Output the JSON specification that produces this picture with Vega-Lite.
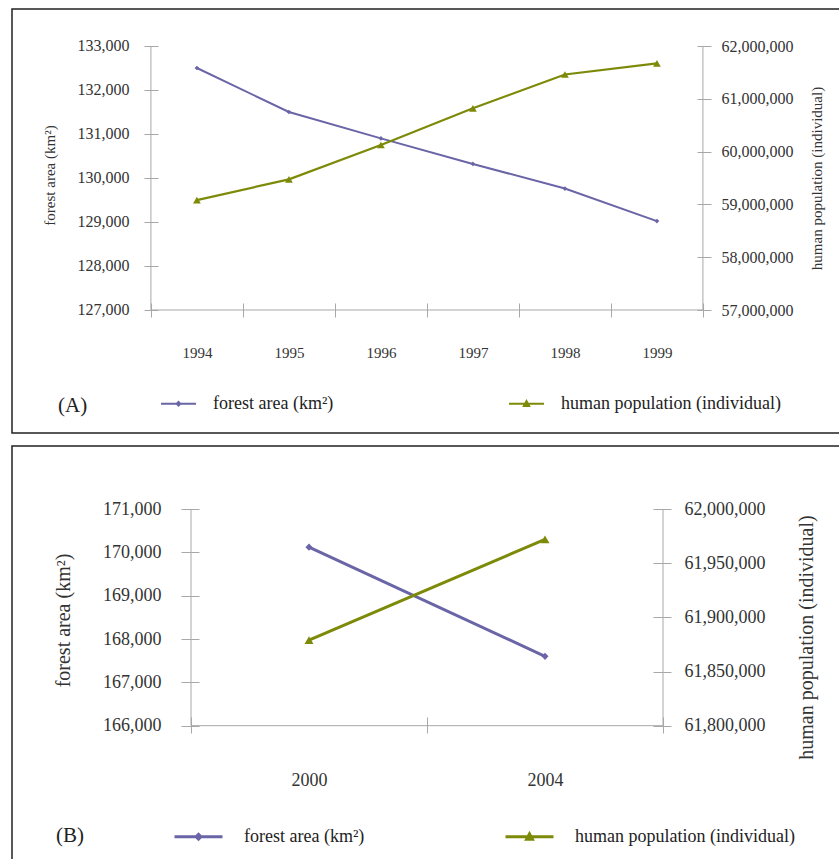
{
  "$schema": "https://vega.github.io/schema/vega-lite/v6.json",
  "padding": {"left": 11, "top": 8, "right": 0, "bottom": 0},
  "spacing": 11,
  "background": "white",
  "config": {
    "view": {"stroke": "#222222", "strokeWidth": 1.5},
    "font": "Liberation Serif",
    "axis": {"labelFont": "Liberation Serif", "titleFont": "Liberation Serif", "titleFontWeight": "normal", "labelColor": "#333333", "titleColor": "#333333", "tickColor": "#a8a8a8", "domain": false, "grid": false},
    "legend": {"labelFont": "Liberation Serif", "labelColor": "#222222", "padding": 0, "labelLimit": 400},
    "title": {"font": "Liberation Serif", "fontWeight": "normal", "color": "#222222"}
  },
  "datasets": {
    "a": [
      {"year": 1994, "forest": 132500, "population": 59080000},
      {"year": 1995, "forest": 131500, "population": 59475000},
      {"year": 1996, "forest": 130900, "population": 60125000},
      {"year": 1997, "forest": 130320, "population": 60820000},
      {"year": 1998, "forest": 129760, "population": 61460000},
      {"year": 1999, "forest": 129020, "population": 61670000}
    ],
    "b": [
      {"year": 2000, "forest": 170120, "population": 61879000},
      {"year": 2004, "forest": 167600, "population": 61972000}
    ]
  },
  "resolve": {"scale": {"color": "independent"}},
  "vconcat": [
    {
      "width": 828,
      "height": 424,
      "title": {"text": "(A)", "orient": "bottom", "anchor": "start", "offset": -27, "dx": 46, "baseline": "middle", "fontSize": 21},
      "data": {"name": "a"},
      "layer": [
        {
          "layer": [
            {
              "data": {"values": [{}]},
              "mark": {"type": "rule", "color": "#a8a8a8", "strokeWidth": 1},
              "encoding": {
                "x": {"datum": 1993.5, "type": "quantitative", "scale": {"domain": [1991.99, 2000.99], "nice": false, "zero": false},
                  "axis": {"values": [1993.5, 1994.5, 1995.5, 1996.5, 1997.5, 1998.5, 1999.5], "labelExpr": "datum.value > 1999 ? '' : format(datum.value + 0.5, 'd')", "labelOffset": 46, "offset": -130, "tickSize": 14, "labelPadding": 28, "labelFontSize": 15, "labelFlush": false, "labelOverlap": false, "title": null}},
                "y": {"datum": 127000, "type": "quantitative", "scale": {"domain": [124204.5, 133840.9], "nice": false, "zero": false},
                  "axis": {"orient": "left", "values": [127000, 128000, 129000, 130000, 131000, 132000, 133000], "format": ",.0f", "offset": -146, "tickSize": 14, "labelPadding": 15, "labelFontSize": 16, "labelOverlap": false, "title": "forest area (km²)", "titleX": -109, "titleY": 166, "titleAngle": -90, "titleAlign": "center", "titleBaseline": "middle", "titleFontSize": 15}},
                "y2": {"datum": 133000}
              }
            },
            {
              "data": {"values": [{}]},
              "mark": {"type": "rule", "color": "#a8a8a8", "strokeWidth": 1},
              "encoding": {
                "x": {"datum": 1999.5, "type": "quantitative", "scale": {"domain": [1991.99, 2000.99], "nice": false, "zero": false},
                  "axis": {"values": [1993.5, 1994.5, 1995.5, 1996.5, 1997.5, 1998.5, 1999.5], "labelExpr": "datum.value > 1999 ? '' : format(datum.value + 0.5, 'd')", "labelOffset": 46, "offset": -130, "tickSize": 14, "labelPadding": 28, "labelFontSize": 15, "labelFlush": false, "labelOverlap": false, "title": null}},
                "y": {"datum": 127000, "type": "quantitative", "scale": {"domain": [124204.5, 133840.9], "nice": false, "zero": false},
                  "axis": {"orient": "left", "values": [127000, 128000, 129000, 130000, 131000, 132000, 133000], "format": ",.0f", "offset": -146, "tickSize": 14, "labelPadding": 15, "labelFontSize": 16, "labelOverlap": false, "title": "forest area (km²)", "titleX": -109, "titleY": 166, "titleAngle": -90, "titleAlign": "center", "titleBaseline": "middle", "titleFontSize": 15}},
                "y2": {"datum": 133000}
              }
            },
            {
              "data": {"values": [{}]},
              "mark": {"type": "rule", "color": "#a8a8a8", "strokeWidth": 1},
              "encoding": {
                "x": {"datum": 1993.5, "type": "quantitative", "scale": {"domain": [1991.99, 2000.99], "nice": false, "zero": false},
                  "axis": {"values": [1993.5, 1994.5, 1995.5, 1996.5, 1997.5, 1998.5, 1999.5], "labelExpr": "datum.value > 1999 ? '' : format(datum.value + 0.5, 'd')", "labelOffset": 46, "offset": -130, "tickSize": 14, "labelPadding": 28, "labelFontSize": 15, "labelFlush": false, "labelOverlap": false, "title": null}},
                "x2": {"datum": 1999.5},
                "y": {"datum": 127000, "type": "quantitative", "scale": {"domain": [124204.5, 133840.9], "nice": false, "zero": false},
                  "axis": {"orient": "left", "values": [127000, 128000, 129000, 130000, 131000, 132000, 133000], "format": ",.0f", "offset": -146, "tickSize": 14, "labelPadding": 15, "labelFontSize": 16, "labelOverlap": false, "title": "forest area (km²)", "titleX": -109, "titleY": 166, "titleAngle": -90, "titleAlign": "center", "titleBaseline": "middle", "titleFontSize": 15}}
              }
            },
            {
              "mark": {"type": "line", "strokeWidth": 2, "point": {"shape": "diamond", "size": 22, "filled": true}},
              "encoding": {
                "x": {"field": "year", "type": "quantitative", "scale": {"domain": [1991.99, 2000.99], "nice": false, "zero": false},
                  "axis": {"values": [1993.5, 1994.5, 1995.5, 1996.5, 1997.5, 1998.5, 1999.5], "labelExpr": "datum.value > 1999 ? '' : format(datum.value + 0.5, 'd')", "labelOffset": 46, "offset": -130, "tickSize": 14, "labelPadding": 28, "labelFontSize": 15, "labelFlush": false, "labelOverlap": false, "title": null}},
                "y": {"field": "forest", "type": "quantitative", "scale": {"domain": [124204.5, 133840.9], "nice": false, "zero": false},
                  "axis": {"orient": "left", "values": [127000, 128000, 129000, 130000, 131000, 132000, 133000], "format": ",.0f", "offset": -146, "tickSize": 14, "labelPadding": 15, "labelFontSize": 16, "labelOverlap": false, "title": "forest area (km²)", "titleX": -109, "titleY": 166, "titleAngle": -90, "titleAlign": "center", "titleBaseline": "middle", "titleFontSize": 15}},
                "color": {"datum": "forest area (km²)", "type": "nominal",
                  "scale": {"domain": ["forest area (km²)", "human population (individual)"], "range": ["#6a65a6", "#7d8a08"]},
                  "legend": {"orient": "none", "legendX": 148, "legendY": 376, "direction": "horizontal", "title": null, "labelFontSize": 18, "labelOffset": 16, "columnPadding": 171, "symbolSize": 1225, "symbolStrokeWidth": 2, "labelLimit": 400,
                    "encoding": {"symbols": {"shape": {"value": {"expr": "datum.value == 'forest area (km²)' ? 'M-1,0H1M-0.1,0L0,-0.1L0.1,0L0,0.1Z' : 'M-1,0H1M-0.15,0.13L0,-0.15L0.15,0.13Z'"}}}}}}
              }
            }
          ]
        },
        {
          "mark": {"type": "line", "strokeWidth": 2.2, "point": {"shape": "triangle-up", "size": 60, "filled": true}},
          "encoding": {
            "x": {"field": "year", "type": "quantitative", "scale": {"domain": [1991.99, 2000.99], "nice": false, "zero": false},
              "axis": {"values": [1993.5, 1994.5, 1995.5, 1996.5, 1997.5, 1998.5, 1999.5], "labelExpr": "datum.value > 1999 ? '' : format(datum.value + 0.5, 'd')", "labelOffset": 46, "offset": -130, "tickSize": 14, "labelPadding": 28, "labelFontSize": 15, "labelFlush": false, "labelOverlap": false, "title": null}},
            "y": {"field": "population", "type": "quantitative", "scale": {"domain": [54670455, 62700758], "nice": false, "zero": false},
              "axis": {"orient": "right", "values": [57000000, 58000000, 59000000, 60000000, 61000000, 62000000], "format": ",.0f", "offset": -143, "tickSize": 14, "labelPadding": 10, "labelFontSize": 16, "labelOverlap": false, "title": "human population (individual)", "titleX": 119, "titleY": 169, "titleAngle": -90, "titleAlign": "center", "titleBaseline": "middle", "titleFontSize": 15}},
            "color": {"datum": "human population (individual)", "type": "nominal"}
          }
        }
      ],
      "resolve": {"scale": {"y": "independent"}}
    },
    {
      "width": 828,
      "height": 416,
      "title": {"text": "(B)", "orient": "bottom", "anchor": "start", "offset": -26, "dx": 44, "baseline": "middle", "fontSize": 21},
      "data": {"name": "b"},
      "layer": [
        {
          "layer": [
            {
              "data": {"values": [{}]},
              "mark": {"type": "rule", "color": "#a8a8a8", "strokeWidth": 1},
              "encoding": {
                "x": {"datum": 1998, "type": "quantitative", "scale": {"domain": [1994.966, 2009.0], "nice": false, "zero": false},
                  "axis": {"values": [1998, 2002, 2006], "labelExpr": "datum.value > 2005 ? '' : format(datum.value + 2, 'd')", "labelOffset": 118, "offset": -145, "tickSize": 16, "labelPadding": 38, "labelFontSize": 18, "labelFlush": false, "labelOverlap": false, "title": null}},
                "y": {"datum": 166000, "type": "quantitative", "scale": {"domain": [162854.4, 172453.8], "nice": false, "zero": false},
                  "axis": {"orient": "left", "values": [166000, 167000, 168000, 169000, 170000, 171000], "format": ",.0f", "offset": -187, "tickSize": 18, "labelPadding": 20, "labelFontSize": 18, "labelOverlap": false, "title": "forest area (km²)", "titleX": -136, "titleY": 174, "titleAngle": -90, "titleAlign": "center", "titleBaseline": "middle", "titleFontSize": 20}},
                "y2": {"datum": 171000}
              }
            },
            {
              "data": {"values": [{}]},
              "mark": {"type": "rule", "color": "#a8a8a8", "strokeWidth": 1},
              "encoding": {
                "x": {"datum": 2006, "type": "quantitative", "scale": {"domain": [1994.966, 2009.0], "nice": false, "zero": false},
                  "axis": {"values": [1998, 2002, 2006], "labelExpr": "datum.value > 2005 ? '' : format(datum.value + 2, 'd')", "labelOffset": 118, "offset": -145, "tickSize": 16, "labelPadding": 38, "labelFontSize": 18, "labelFlush": false, "labelOverlap": false, "title": null}},
                "y": {"datum": 166000, "type": "quantitative", "scale": {"domain": [162854.4, 172453.8], "nice": false, "zero": false},
                  "axis": {"orient": "left", "values": [166000, 167000, 168000, 169000, 170000, 171000], "format": ",.0f", "offset": -187, "tickSize": 18, "labelPadding": 20, "labelFontSize": 18, "labelOverlap": false, "title": "forest area (km²)", "titleX": -136, "titleY": 174, "titleAngle": -90, "titleAlign": "center", "titleBaseline": "middle", "titleFontSize": 20}},
                "y2": {"datum": 171000}
              }
            },
            {
              "data": {"values": [{}]},
              "mark": {"type": "rule", "color": "#a8a8a8", "strokeWidth": 1},
              "encoding": {
                "x": {"datum": 1998, "type": "quantitative", "scale": {"domain": [1994.966, 2009.0], "nice": false, "zero": false},
                  "axis": {"values": [1998, 2002, 2006], "labelExpr": "datum.value > 2005 ? '' : format(datum.value + 2, 'd')", "labelOffset": 118, "offset": -145, "tickSize": 16, "labelPadding": 38, "labelFontSize": 18, "labelFlush": false, "labelOverlap": false, "title": null}},
                "x2": {"datum": 2006},
                "y": {"datum": 166000, "type": "quantitative", "scale": {"domain": [162854.4, 172453.8], "nice": false, "zero": false},
                  "axis": {"orient": "left", "values": [166000, 167000, 168000, 169000, 170000, 171000], "format": ",.0f", "offset": -187, "tickSize": 18, "labelPadding": 20, "labelFontSize": 18, "labelOverlap": false, "title": "forest area (km²)", "titleX": -136, "titleY": 174, "titleAngle": -90, "titleAlign": "center", "titleBaseline": "middle", "titleFontSize": 20}}
              }
            },
            {
              "mark": {"type": "line", "strokeWidth": 3, "point": {"shape": "diamond", "size": 50, "filled": true}},
              "encoding": {
                "x": {"field": "year", "type": "quantitative", "scale": {"domain": [1994.966, 2009.0], "nice": false, "zero": false},
                  "axis": {"values": [1998, 2002, 2006], "labelExpr": "datum.value > 2005 ? '' : format(datum.value + 2, 'd')", "labelOffset": 118, "offset": -145, "tickSize": 16, "labelPadding": 38, "labelFontSize": 18, "labelFlush": false, "labelOverlap": false, "title": null}},
                "y": {"field": "forest", "type": "quantitative", "scale": {"domain": [162854.4, 172453.8], "nice": false, "zero": false},
                  "axis": {"orient": "left", "values": [166000, 167000, 168000, 169000, 170000, 171000], "format": ",.0f", "offset": -187, "tickSize": 18, "labelPadding": 20, "labelFontSize": 18, "labelOverlap": false, "title": "forest area (km²)", "titleX": -136, "titleY": 174, "titleAngle": -90, "titleAlign": "center", "titleBaseline": "middle", "titleFontSize": 20}},
                "color": {"datum": "forest area (km²)", "type": "nominal",
                  "scale": {"domain": ["forest area (km²)", "human population (individual)"], "range": ["#6a65a6", "#7d8a08"]},
                  "legend": {"orient": "none", "legendX": 161, "legendY": 365, "direction": "horizontal", "title": null, "labelFontSize": 18, "labelOffset": 20, "columnPadding": 134, "symbolSize": 2304, "symbolStrokeWidth": 3, "labelLimit": 400,
                    "encoding": {"symbols": {"shape": {"value": {"expr": "datum.value == 'forest area (km²)' ? 'M-1,0H1M-0.1,0L0,-0.1L0.1,0L0,0.1Z' : 'M-1,0H1M-0.12,0.1L0,-0.12L0.12,0.1Z'"}}}}}}
              }
            }
          ]
        },
        {
          "mark": {"type": "line", "strokeWidth": 3, "point": {"shape": "triangle-up", "size": 80, "filled": true}},
          "encoding": {
            "x": {"field": "year", "type": "quantitative", "scale": {"domain": [1994.966, 2009.0], "nice": false, "zero": false},
              "axis": {"values": [1998, 2002, 2006], "labelExpr": "datum.value > 2005 ? '' : format(datum.value + 2, 'd')", "labelOffset": 118, "offset": -145, "tickSize": 16, "labelPadding": 38, "labelFontSize": 18, "labelFlush": false, "labelOverlap": false, "title": null}},
            "y": {"field": "population", "type": "quantitative", "scale": {"domain": [61674180, 62058154], "nice": false, "zero": false},
              "axis": {"orient": "right", "values": [61800000, 61850000, 61900000, 61950000, 62000000], "format": ",.0f", "offset": -187, "tickSize": 18, "labelPadding": 13, "labelFontSize": 18, "labelOverlap": false, "title": "human population (individual)", "titleX": 153, "titleY": 191, "titleAngle": -90, "titleAlign": "center", "titleBaseline": "middle", "titleFontSize": 20}},
            "color": {"datum": "human population (individual)", "type": "nominal"}
          }
        }
      ],
      "resolve": {"scale": {"y": "independent"}}
    }
  ]
}
